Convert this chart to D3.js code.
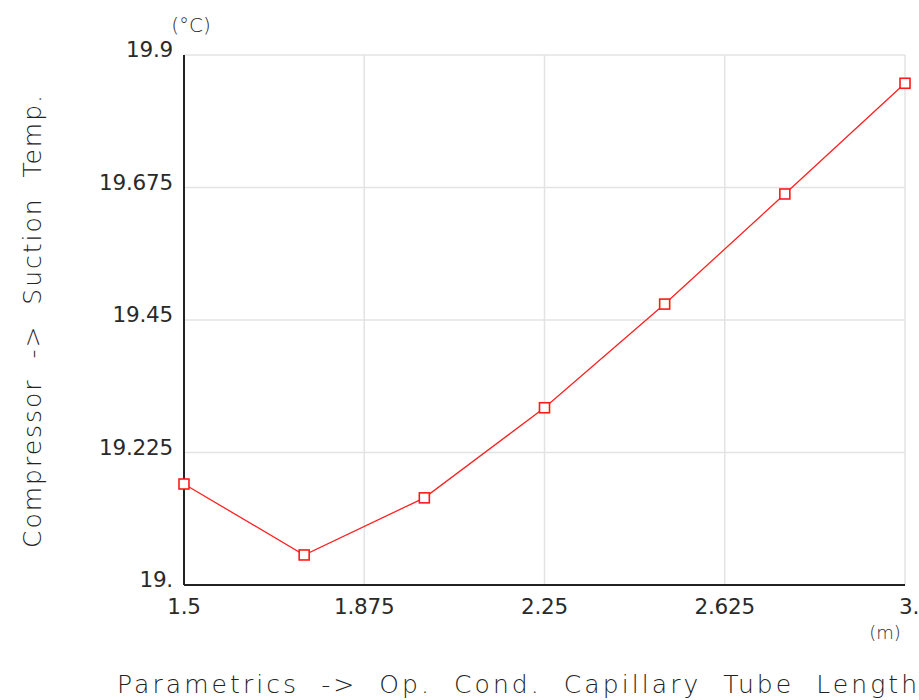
<!DOCTYPE html>
<html><head><meta charset="utf-8">
<script src="https://cdn.jsdelivr.net/npm/d3@7"></script>
<style>body{margin:0;background:#fff}svg{display:block}</style>
</head><body>
<script>
const xValues = [1.5, 1.75, 2.0, 2.25, 2.5, 2.75, 3.0];
const yValues = [19.1715, 19.051, 19.148, 19.301, 19.477, 19.664, 19.852];
const xTicks = [1.5, 1.875, 2.25, 2.625, 3.0];
const xTickLabels = ["1.5", "1.875", "2.25", "2.625", "3."];
const yTicks = [19.0, 19.225, 19.45, 19.675, 19.9];
const yTickLabels = ["19.", "19.225", "19.45", "19.675", "19.9"];
const xTitle = "Parametrics  ->  Op.  Cond.  Capillary  Tube  Length";
const yTitle = "Compressor  ->  Suction  Temp.";
const xUnit = "(m)", yUnit = "(°C)";

const W = 919, H = 700;
const L = 184, R = 905, T = 55, B = 585;
const svg = d3.select("body").append("svg").attr("width", W).attr("height", H);
const x = d3.scaleLinear().domain([1.5, 3.0]).range([L, R]);
const y = d3.scaleLinear().domain([19.0, 19.9]).range([B, T]);
const font = "'DejaVu Sans', 'Liberation Sans', sans-serif";
const txt = "#2a2a2a";

// gridlines
svg.append("g").selectAll("line.v").data(xTicks).join("line")
  .attr("x1", d => x(d)).attr("x2", d => x(d)).attr("y1", T).attr("y2", B)
  .attr("stroke", "#e3e3e3").attr("stroke-width", 1.5);
svg.append("g").selectAll("line.h").data(yTicks).join("line")
  .attr("y1", d => y(d)).attr("y2", d => y(d)).attr("x1", L).attr("x2", R)
  .attr("stroke", "#e3e3e3").attr("stroke-width", 1.5);

// axes lines
svg.append("line").attr("x1", L).attr("x2", L).attr("y1", T).attr("y2", B)
  .attr("stroke", "#222").attr("stroke-width", 2);
svg.append("line").attr("x1", L).attr("x2", R).attr("y1", B).attr("y2", B)
  .attr("stroke", "#222").attr("stroke-width", 2);

// tick labels
svg.append("g").selectAll("text").data(yTicks).join("text")
  .attr("x", 173).attr("y", d => y(d) + 2).attr("text-anchor", "end")
  .attr("font-family", font).attr("font-size", 21.5).attr("fill", txt)
  .attr("letter-spacing", "-0.2")
  .text((d, i) => yTickLabels[i]);
svg.append("g").selectAll("text").data(xTicks).join("text")
  .attr("x", (d, i) => x(d) + (i === xTicks.length - 1 ? 4 : 0)).attr("y", 614).attr("text-anchor", "middle")
  .attr("font-family", font).attr("font-size", 21.5).attr("fill", txt)
  .attr("letter-spacing", "-0.2")
  .text((d, i) => xTickLabels[i]);

// units
svg.append("text").attr("x", 191).attr("y", 32).attr("text-anchor", "middle")
  .attr("font-family", font).attr("font-size", 20).attr("fill", txt).attr("font-weight", 300).text(yUnit);
svg.append("text").attr("x", 885).attr("y", 639).attr("text-anchor", "middle")
  .attr("font-family", font).attr("font-size", 18).attr("fill", txt).attr("font-weight", 300).text(xUnit);

// titles
svg.append("text").attr("x", 117).attr("y", 693)
  .attr("textLength", 800).attr("lengthAdjust", "spacing")
  .attr("font-family", font).attr("font-size", 25).attr("fill", "#222")
  .attr("font-weight", 200).style("white-space", "pre")
  .text(xTitle);
svg.append("text").attr("transform", "translate(41,548) rotate(-90)")
  .attr("textLength", 453).attr("lengthAdjust", "spacing")
  .attr("font-family", font).attr("font-size", 25).attr("fill", "#222")
  .attr("font-weight", 200).style("white-space", "pre")
  .text(yTitle);

// line + markers
const line = d3.line().x((d, i) => x(xValues[i])).y(d => y(d));
svg.append("path").datum(yValues).attr("d", line)
  .attr("fill", "none").attr("stroke", "#ff2020").attr("stroke-width", 1.3);
svg.append("g").selectAll("rect").data(yValues).join("rect")
  .attr("x", (d, i) => x(xValues[i]) - 5).attr("y", d => y(d) - 5)
  .attr("width", 10).attr("height", 10)
  .attr("fill", "#fff").attr("stroke", "#ff1a1a").attr("stroke-width", 1.6);
</script>
</body></html>
